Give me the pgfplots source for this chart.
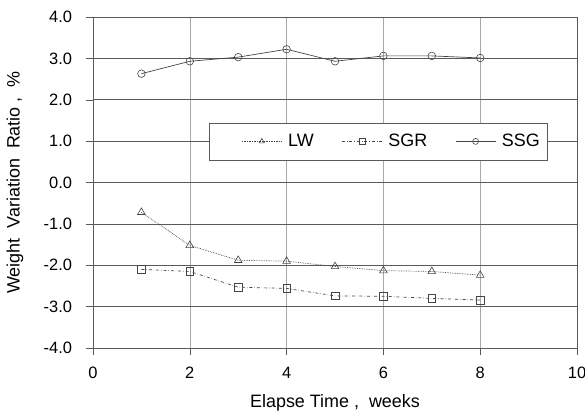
\documentclass[border=0pt]{standalone}
\usepackage{pgfplots}
\pgfplotsset{compat=1.18}
\usepackage{fontspec}
\setmainfont{Liberation Sans}
\definecolor{ln}{HTML}{454545}
\definecolor{gridv}{HTML}{A8A8A8}
\definecolor{gridh}{HTML}{5A5A5A}
\begin{document}
\begin{tikzpicture}[x=1bp,y=1bp]
\path[use as bounding box] (-93,-69) rectangle (492,348);
\begin{axis}[
  at={(0,0)}, anchor=south west,
  scale only axis, width=484bp, height=331bp,
  xmin=0, xmax=10, ymin=-4, ymax=4,
  xtick={0,2,...,10}, ytick={-4,-3,...,4},
  /pgf/number format/assume math mode=true,
  yticklabel style={/pgf/number format/.cd,fixed,fixed zerofill,precision=1,/tikz/.cd, xshift=-11bp},
  xticklabel style={yshift=-9bp},
  ticklabel style={font=\fontsize{16.5}{18}\selectfont},
  label style={font=\fontsize{18}{20}\selectfont},
  tick align=outside, tick style={color=gridh, thin},
  major tick length=6.5bp,
  xtick pos=bottom, ytick pos=left,
  axis line style={color=gridh, line width=0.6pt},
  grid=major,
  x grid style={color=gridv, line width=0.6pt},
  y grid style={color=gridh, line width=0.6pt},
  xlabel={Elapse Time ,\ \ weeks},
  ylabel={Weight\ \ Variation\ \ Ratio ,\ \ \%},
  xlabel style={at={(axis description cs:0.5,-0.166)}, anchor=center},
  ylabel style={at={(axis description cs:-0.161,0.5)}, anchor=center},
  legend columns=3,
  legend style={at={(axis cs:6.17,0.993)}, anchor=center, draw=none, fill=none,
    font=\fontsize{18}{20}\selectfont, inner xsep=0bp, inner ysep=0bp,
    /tikz/every even column/.append style={column sep=26bp}},
  legend cell align=left,
  legend image code/.code={\draw[mark repeat=2,mark phase=2,#1,mark size=3bp] plot coordinates {(0bp,0bp) (20bp,0bp) (40bp,0bp)};},
]
\draw[gridh, line width=0.6pt, fill=white] (axis cs:2.397,1.44) rectangle (axis cs:9.38,0.546);
\addplot[color=ln, densely dotted, line width=0.7pt, mark=triangle, mark size=4.4bp, mark options={solid, fill=white, line width=0.6pt}]
  coordinates {(1,-0.72) (2,-1.52) (3,-1.88) (4,-1.90) (5,-2.03) (6,-2.13) (7,-2.15) (8,-2.24)};
\addlegendentry{\hspace*{4bp}LW}
\addplot[color=ln, dashdotted, line width=0.7pt, mark=square, mark size=3.8bp, mark options={solid, fill=white, line width=0.6pt}]
  coordinates {(1,-2.10) (2,-2.15) (3,-2.53) (4,-2.56) (5,-2.74) (6,-2.75) (7,-2.80) (8,-2.84)};
\addlegendentry{\hspace*{4bp}SGR}
\addplot[color=ln, solid, line width=0.7pt, mark=o, mark size=3.8bp, mark options={solid, fill=white, line width=0.6pt}]
  coordinates {(1,2.63) (2,2.93) (3,3.03) (4,3.22) (5,2.93) (6,3.06) (7,3.06) (8,3.01)};
\addlegendentry{\hspace*{4bp}SSG}
\end{axis}
\end{tikzpicture}
\end{document}
